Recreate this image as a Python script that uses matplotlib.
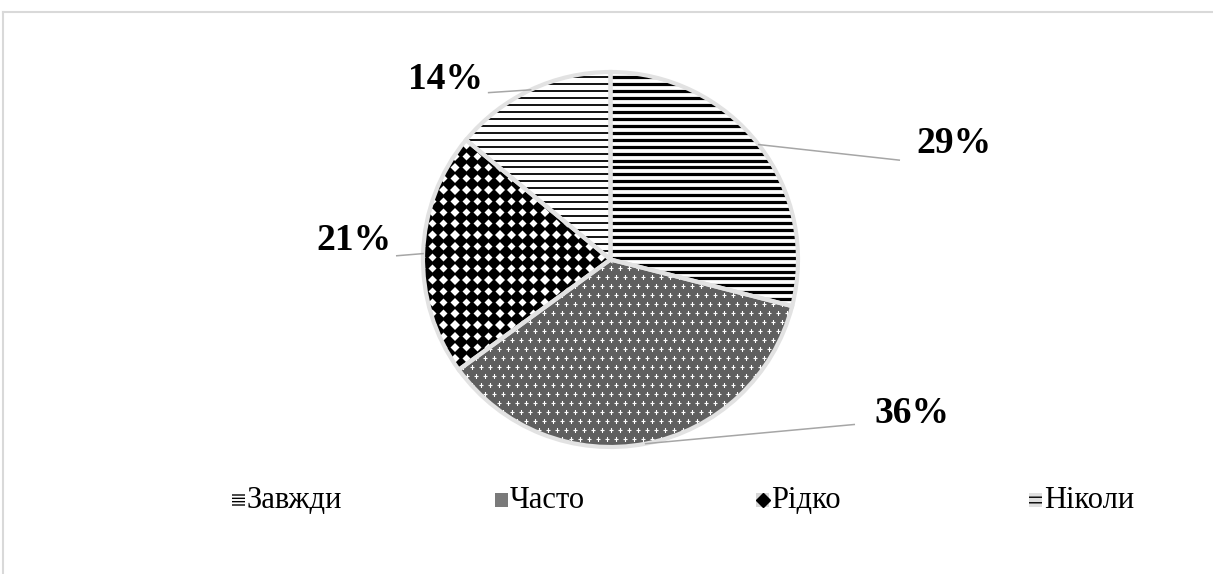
import numpy as np
import matplotlib
matplotlib.use('Agg')
import matplotlib.pyplot as plt
from matplotlib.collections import LineCollection
from matplotlib.patches import Rectangle, Wedge
from matplotlib.lines import Line2D

labels = ['Завжди', 'Часто', 'Рідко', 'Ніколи']
values = [29, 36, 21, 14]
pct_labels = ['29%', '36%', '21%', '14%']

# label text positions and leader-line ends (pie data units, r = 1)
text_pos = [(1.83, 0.62), (1.61, -0.82), (-1.37, 0.10), (-0.88, 0.96)]
leader_end = [(1.54, 0.53), (1.30, -0.88), (-1.14, 0.02), (-0.65, 0.89)]

W, H = 1213, 574
fig = plt.figure(figsize=(W / 100, H / 100), dpi=100)
plt.rcParams['font.family'] = ['Liberation Serif', 'DejaVu Serif']

# pie axes: centre (610, 260) px, radius 187.5 px
R = 187.5
cx, cy = 610.5, 259.5
half = 1.25 * R
ax = fig.add_axes([(cx - half) / W, (H - cy - half) / H, 2 * half / W, 2 * half / H])
ax.set_xlim(-1.25, 1.25)
ax.set_ylim(-1.25, 1.25)
ax.set_aspect('equal')
ax.axis('off')

wedges, _ = ax.pie(values, startangle=90, counterclock=False, radius=1,
                   wedgeprops=dict(linewidth=0))

grid = np.arange(-1.1, 1.1, 0.037)

# Завжди: thick black horizontal lines
w = wedges[0]
w.set_facecolor('white')
lc = LineCollection([[(-1.1, y), (1.1, y)] for y in grid], colors='black', linewidths=2.3)
ax.add_collection(lc)
lc.set_clip_path(w)

# Часто: dark checker with white specks
w = wedges[1]
w.set_facecolor('#5f5f5f')
g2 = np.arange(-1.1, 1.1, 0.048)
gx, gy = np.meshgrid(g2, g2)
gx = gx + (np.arange(len(g2))[:, None] % 2) * 0.024
dots = ax.plot(gx.ravel(), gy.ravel(), '+', color='white', markersize=3, markeredgewidth=0.8)[0]
dots.set_clip_path(w)

# Рідко: black diamonds on white
w = wedges[2]
w.set_facecolor('white')
g3 = np.arange(-1.1, 1.1, 0.06)
dx, dy = np.meshgrid(g3, g3)
dia = ax.plot(dx.ravel(), dy.ravel(), 'D', color='black', markersize=7, markeredgewidth=0)[0]
dia.set_clip_path(w)

# Ніколи: thinner black horizontal lines
w = wedges[3]
w.set_facecolor('white')
lc2 = LineCollection([[(-1.1, y), (1.1, y)] for y in grid], colors='black', linewidths=1.3)
ax.add_collection(lc2)
lc2.set_clip_path(w)

# light slice borders on top
for w in wedges:
    e = Wedge(w.center, w.r, w.theta1, w.theta2, fill=False,
              edgecolor='#e2e2e2', linewidth=3, zorder=5)
    ax.add_patch(e)

# percentage labels with leader lines
for w, txt, tp, le in zip(wedges, pct_labels, text_pos, leader_end):
    mid = np.deg2rad((w.theta1 + w.theta2) / 2)
    ax.plot([np.cos(mid), le[0]], [np.sin(mid), le[1]], color='#a6a6a6',
            linewidth=1.1, clip_on=False, zorder=6)
    ax.text(tp[0], tp[1], txt, fontsize=27, fontweight='bold', ha='center',
            va='center', clip_on=False)

# legend
leg_x = [232, 495, 756, 1029]
leg_y = 500
hatches = ['-----', None, None, '---']
faces = ['white', '#7a7a7a', '#d8d8d8', '#e0e0e0']
for i, lab in enumerate(labels):
    x0 = leg_x[i]
    r = Rectangle((x0 / W, (H - leg_y - 7) / H), 13 / W, 14 / H, transform=fig.transFigure,
                  facecolor=faces[i], edgecolor='black' if hatches[i] else 'none',
                  hatch=hatches[i], linewidth=0)
    fig.add_artist(r)
    if i == 2:
        fig.add_artist(Line2D([(x0 + 6.5) / W], [(H - leg_y) / H], marker='D', color='black',
                              markersize=7, linestyle='none', transform=fig.transFigure))
    fig.text((x0 + 15) / W, (H - leg_y) / H, lab, fontsize=22, ha='left', va='center')

# outer frame (top and left edges visible)
fig.add_artist(Line2D([3 / W, 1.0], [1 - 11.5 / H] * 2, color='#d9d9d9', linewidth=1.5,
                      transform=fig.transFigure))
fig.add_artist(Line2D([3 / W] * 2, [0, 1 - 11.5 / H], color='#d9d9d9', linewidth=1.5,
                      transform=fig.transFigure))

fig.savefig('out.png', dpi=100)
